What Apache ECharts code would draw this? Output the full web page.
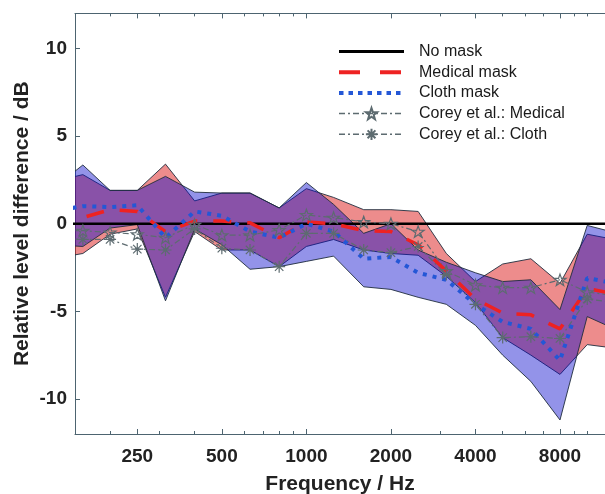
<!DOCTYPE html>
<html>
<head>
<meta charset="UTF-8">
<title>Relative level difference</title>
<script src="https://cdn.jsdelivr.net/npm/echarts@6/dist/echarts.min.js"></script>
<style>
  html, body { margin: 0; padding: 0; background: #fff; }
  #chart { width: 605px; height: 494px; }
</style>
</head>
<body>
<div id="chart"></div>
<script>
// third-octave band centres (Hz); 125 and 12500 sit just outside the visible range
const freqs = [125, 160, 200, 250, 315, 400, 500, 630, 800, 1000, 1250, 1600, 2000, 2500, 3150, 4000, 5000, 6300, 8000, 10000, 12500];

const noMask = [0, 0, 0, 0, 0, 0, 0, 0, 0, 0, 0, 0, 0, 0, 0, 0, 0, 0, 0, 0, 0];
const medicalMean = [0.4, 0.35, 0.8, 0.7, -0.45, 0.15, 0.15, 0.05, -0.8, 0.1, 0.0, -0.4, -0.45, -1.2, -2.7, -4.3, -5.1, -5.2, -6.0, -3.7, -4.0];
const clothMean = [0.7, 1.0, 0.95, 1.05, -0.8, 0.7, 0.45, -0.45, -0.8, 0.0, -0.45, -2.0, -1.9, -2.8, -3.2, -4.6, -5.6, -6.0, -7.8, -3.1, -3.4];

const medicalUpper = [2.4, 2.8, 1.9, 1.9, 3.4, 1.3, 1.75, 1.75, 0.9, 2.0, 1.5, 0.8, 0.8, 0.7, -1.7, -3.3, -2.3, -2.0, -3.4, -0.6, -0.9];
const medicalLower = [-2.0, -1.7, -0.6, -0.3, -4.2, -0.45, -1.5, -1.5, -2.45, -1.3, -0.9, -1.5, -1.7, -1.8, -3.0, -4.5, -6.5, -7.5, -8.6, -6.9, -7.1];
const clothUpper = [2.0, 3.35, 1.9, 1.9, 2.7, 1.8, 1.75, 1.75, 0.9, 2.35, 1.1, -0.55, 0.0, -1.5, -2.2, -2.8, -3.3, -3.2, -4.9, -0.1, -0.5];
const clothLower = [-1.2, -1.3, -0.25, -0.05, -4.4, -0.3, -1.2, -2.6, -2.45, -2.15, -1.85, -3.6, -3.75, -4.2, -4.6, -5.8, -7.5, -9.0, -11.2, -5.3, -6.0];

const coreyMedical = [-0.4, -0.4, -0.5, -0.6, -0.8, -0.05, -0.65, -0.65, -0.35, 0.5, 0.35, 0.1, 0.0, -0.45, -2.7, -3.5, -3.65, -3.65, -3.2, -3.9, -4.1];
const coreyCloth = [-0.8, -0.9, -0.9, -1.45, -1.5, -0.3, -1.4, -1.5, -2.45, -0.55, -0.55, -1.5, -1.65, -1.3, -2.9, -4.6, -6.5, -6.45, -6.55, -4.3, -4.5];

const majorTicks = [250, 500, 1000, 2000, 4000, 8000];
const minorTicks = [200, 300, 400, 600, 700, 800, 900, 3000, 5000, 6000, 7000, 9000, 10000];
const yTicks = [-10, -5, 0, 5, 10];

// log frequency axis done on a log2 value axis
const lg = f => Math.log2(f);
const xMin = lg(150), xMax = lg(11570);
const pairs = vals => freqs.map((f, i) => [lg(f), vals[i]]);

const axisColor = '#4d6470';
const font = 'Liberation Sans, Arial, sans-serif';
const star = 'path://M0,-10L2.35,-3.24L9.51,-3.09L3.8,1.24L5.88,8.09L0,4L-5.88,8.09L-3.8,1.24L-9.51,-3.09L-2.35,-3.24Z';
const asterisk = 'path://M0,-10L0,10M-10,0L10,0M-7,-7L7,7M-7,7L7,-7';
const coreyGrey = '#5d6b70';

function bandSeries(upper, lower, fill) {
    return {
        type: 'custom',
        clip: true,
        silent: true,
        data: [[lg(freqs[0]), 0]],
        renderItem: (params, api) => {
            const pts = [];
            freqs.forEach((f, i) => pts.push(api.coord([lg(f), upper[i]])));
            for (let i = freqs.length - 1; i >= 0; i--) pts.push(api.coord([lg(freqs[i]), lower[i]]));
            return {
                type: 'polygon',
                shape: { points: pts },
                style: { fill: fill, stroke: '#1f2d3d', lineWidth: 0.9 }
            };
        }
    };
}

function xAxisBase(position, ticks, len, showLine) {
    return {
        type: 'value', position: position, min: xMin, max: xMax,
        axisLine: { show: showLine, onZero: false, lineStyle: { color: axisColor, width: 1 } },
        axisTick: { show: true, inside: true, length: len, customValues: ticks.map(lg), lineStyle: { color: axisColor } },
        axisLabel: { show: false },
        splitLine: { show: false }
    };
}

const chart = echarts.init(document.getElementById('chart'));
const bottomMajor = xAxisBase('bottom', majorTicks, 5, true);
bottomMajor.axisLabel = {
    show: true, customValues: majorTicks.map(lg),
    formatter: v => String(Math.round(Math.pow(2, v))),
    fontSize: 19, fontWeight: 'bold', fontFamily: font, color: '#222', margin: 13
};
bottomMajor.name = 'Frequency / Hz';
bottomMajor.nameLocation = 'middle';
bottomMajor.nameGap = 40;
bottomMajor.nameTextStyle = { fontSize: 21, fontWeight: 'bold', fontFamily: font, color: '#222' };

const hideDot = { opacity: 0 };

chart.setOption({
    animation: false,
    backgroundColor: '#fff',
    grid: { left: 75, right: 0, top: 13.4, bottom: 60, outerBoundsMode: 'none' },
    legend: {
        orient: 'vertical', left: 332, top: 38.5,
        itemWidth: 65, itemHeight: 14, itemGap: 4.7,
        textStyle: { fontSize: 16, fontFamily: font, color: '#1a1a1a', lineHeight: 14, padding: [0, 0, 0, 10] },
        data: [
            { name: 'No mask', itemStyle: hideDot, lineStyle: { width: 3 } },
            { name: 'Medical mask', itemStyle: hideDot, lineStyle: { width: 4, type: [21, 20] } },
            { name: 'Cloth mask', itemStyle: hideDot, lineStyle: { width: 4, type: [4.5, 5] } },
            { name: 'Corey et al.: Medical', lineStyle: { width: 1.5 } },
            { name: 'Corey et al.: Cloth', lineStyle: { width: 1.5 } }
        ]
    },
    xAxis: [
        bottomMajor,
        xAxisBase('bottom', minorTicks, 3, false),
        xAxisBase('top', majorTicks, 5, true),
        xAxisBase('top', minorTicks, 3, false)
    ],
    yAxis: {
        type: 'value', min: -12, max: 12,
        axisLine: { show: true, onZero: false, lineStyle: { color: axisColor, width: 1 } },
        axisTick: { show: true, inside: true, length: 5, customValues: yTicks, lineStyle: { color: axisColor } },
        axisLabel: { customValues: yTicks, fontSize: 19, fontWeight: 'bold', fontFamily: font, color: '#222', margin: 8 },
        splitLine: { show: false },
        name: 'Relative level difference / dB',
        nameLocation: 'middle', nameGap: 42, nameRotate: 90, nameMoveOverlap: false,
        nameTextStyle: { fontSize: 21, fontWeight: 'bold', fontFamily: font, color: '#222' }
    },
    series: [
        {
            name: 'No mask', type: 'line', data: pairs(noMask), symbol: 'none',
            lineStyle: { color: '#000', width: 2.5 }, itemStyle: { color: '#000' }
        },
        {
            name: 'Corey et al.: Medical', type: 'line', data: pairs(coreyMedical),
            symbol: star, symbolSize: 12, symbolKeepAspect: true,
            itemStyle: { color: 'rgba(0,0,0,0)', borderColor: coreyGrey, borderWidth: 1.2 },
            lineStyle: { color: coreyGrey, width: 1.2, type: [6, 3, 2, 3] }
        },
        {
            name: 'Corey et al.: Cloth', type: 'line', data: pairs(coreyCloth),
            symbol: asterisk, symbolSize: 12, symbolKeepAspect: true,
            itemStyle: { color: 'rgba(0,0,0,0)', borderColor: coreyGrey, borderWidth: 1.2 },
            lineStyle: { color: coreyGrey, width: 1.2, type: [6, 3, 2, 3] }
        },
        bandSeries(medicalUpper, medicalLower, 'rgba(215,0,0,0.45)'),
        bandSeries(clothUpper, clothLower, 'rgba(10,10,205,0.44)'),
        {
            name: 'Medical mask', type: 'line', data: pairs(medicalMean), symbol: 'none',
            lineStyle: { color: '#ee2222', width: 3.5, type: [18, 16] }, itemStyle: { color: '#ee2222' }
        },
        {
            name: 'Cloth mask', type: 'line', data: pairs(clothMean), symbol: 'none',
            lineStyle: { color: '#2457d6', width: 4, type: [4, 6] }, itemStyle: { color: '#2457d6' }
        }
    ]
});
</script>
</body>
</html>
